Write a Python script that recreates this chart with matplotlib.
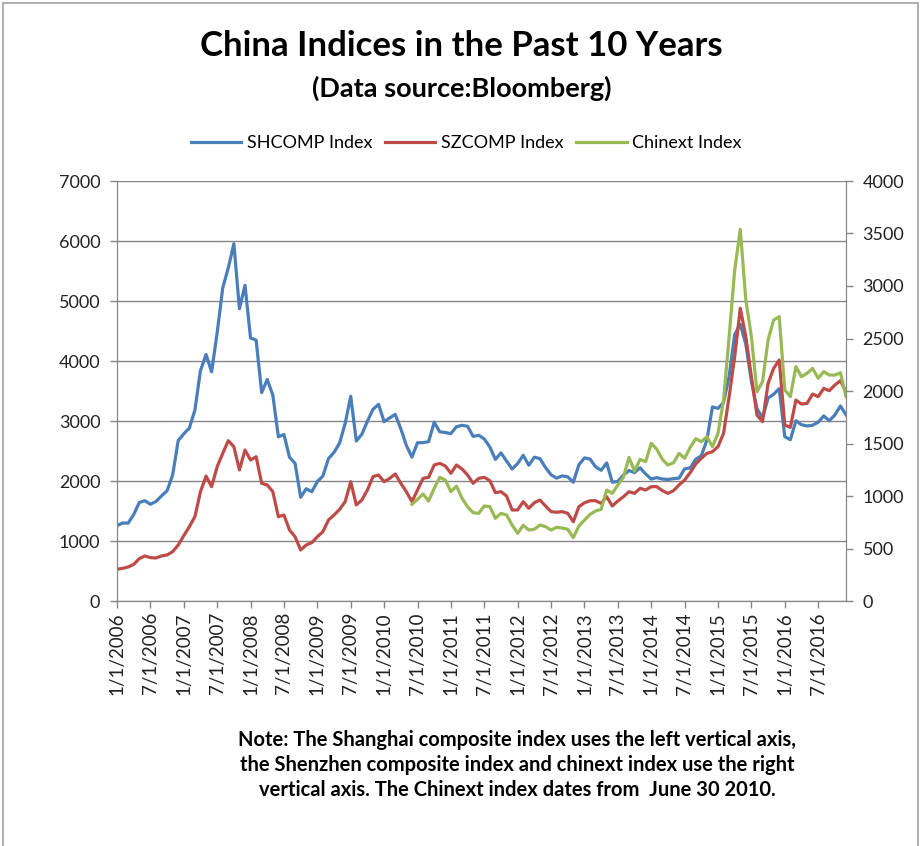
import numpy as np
import matplotlib
matplotlib.use('Agg')
import matplotlib.pyplot as plt
from matplotlib.patches import Rectangle

plt.rcParams['font.family'] = ['Lato', 'DejaVu Sans']

# monthly closes, Jan 2006 .. Dec 2016
shcomp = [1258, 1299, 1298, 1440, 1641, 1672, 1612, 1658, 1752, 1837, 2099, 2675,
          2786, 2881, 3183, 3841, 4109, 3820, 4471, 5218, 5552, 5954, 4871, 5262,
          4383, 4348, 3473, 3693, 3433, 2736, 2775, 2397, 2293, 1729, 1871, 1821,
          1991, 2082, 2373, 2477, 2633, 2959, 3412, 2667, 2779, 2996, 3195, 3277,
          2989, 3051, 3110, 2870, 2592, 2398, 2638, 2639, 2656, 2979, 2820, 2808,
          2790, 2905, 2928, 2912, 2743, 2762, 2701, 2567, 2360, 2469, 2333, 2199,
          2292, 2428, 2263, 2397, 2373, 2225, 2103, 2047, 2086, 2069, 1980, 2269,
          2385, 2366, 2237, 2178, 2301, 1979, 1994, 2098, 2175, 2141, 2220, 2116,
          2033, 2056, 2033, 2026, 2039, 2048, 2202, 2217, 2364, 2420, 2683, 3235,
          3210, 3310, 3748, 4442, 4612, 4277, 3664, 3206, 3053, 3383, 3446, 3539,
          2738, 2688, 3004, 2938, 2917, 2930, 2979, 3085, 3005, 3100, 3250, 3104]

szcomp = [302, 311, 324, 349, 403, 429, 413, 410, 429, 438, 470, 533,
          622, 708, 803, 1041, 1190, 1089, 1279, 1406, 1527, 1470, 1248, 1438,
          1343, 1374, 1121, 1105, 1041, 803, 819, 676, 612, 486, 533, 556,
          612, 660, 771, 819, 873, 946, 1136, 915, 962, 1057, 1184, 1200,
          1136, 1168, 1210, 1121, 1041, 946, 1057, 1168, 1178, 1295, 1311, 1286,
          1216, 1295, 1257, 1200, 1121, 1168, 1178, 1146, 1032, 1041, 1000, 867,
          867, 946, 883, 936, 962, 905, 851, 845, 851, 835, 755, 898,
          935, 955, 955, 930, 993, 905, 952, 993, 1041, 1025, 1073, 1057,
          1089, 1089, 1051, 1025, 1051, 1105, 1152, 1222, 1305, 1359, 1406, 1422,
          1470, 1597, 1946, 2327, 2788, 2517, 2136, 1771, 1708, 2073, 2216, 2295,
          1676, 1654, 1914, 1876, 1882, 1971, 1946, 2025, 2003, 2057, 2098, 1993]

# Chinext starts June 2010 (month index 53)
chinext_start = 53
chinext = [921, 968, 1019, 952, 1073, 1178, 1152,
           1041, 1095, 978, 898, 841, 835, 905, 898, 787, 835, 819, 724,
           645, 721, 676, 683, 724, 708, 676, 702, 695, 683, 603, 714,
           770, 825, 857, 873, 1057, 1025, 1105, 1178, 1368, 1238, 1349, 1327,
           1502, 1445, 1349, 1295, 1317, 1406, 1359, 1463, 1546, 1517, 1565, 1470,
           1597, 1914, 2517, 3152, 3540, 2867, 2517, 1993, 2089, 2486, 2676, 2708,
           2010, 1946, 2232, 2136, 2168, 2216, 2121, 2184, 2152, 2152, 2174, 1946]

tick_labels = []
for yr in range(2006, 2017):
    tick_labels += ['1/1/%d' % yr, '7/1/%d' % yr]

blue = '#4A7EBB'
red = '#BE4B48'
green = '#98B954'
axcol = '#868686'

fig = plt.figure(figsize=(9.23, 8.46), dpi=100)
fig.patches.append(Rectangle((0.003, -0.01), 0.992, 1.007, transform=fig.transFigure,
                             fill=False, edgecolor='#A0A0A0', linewidth=1.2))

ax = fig.add_axes([117 / 923, 1 - 601 / 846, (846 - 117) / 923, (601 - 181) / 846])
ax2 = ax.twinx()

x = np.arange(len(shcomp))
xc = np.arange(chinext_start, chinext_start + len(chinext))

l1, = ax.plot(x, shcomp, color=blue, lw=2.3, label='SHCOMP Index')
l2, = ax2.plot(x, szcomp, color=red, lw=2.3, label='SZCOMP Index')
l3, = ax2.plot(xc, chinext, color=green, lw=2.3, label='Chinext Index')

ax.set_xlim(0, len(shcomp) - 1)
ax.set_ylim(0, 7000)
ax2.set_ylim(0, 4000)
ax.set_yticks(range(0, 7001, 1000))
ax2.set_yticks(range(0, 4001, 500))
ax.set_xticks(range(0, 127, 6))
ax.set_xticklabels(tick_labels, rotation=90)

ax.grid(axis='y', color=axcol, lw=1)
ax.set_axisbelow(True)
for a in (ax, ax2):
    a.spines['top'].set_visible(False)
    for s in ('left', 'right', 'bottom'):
        a.spines[s].set_color(axcol)
    a.tick_params(colors=axcol, labelcolor='#222222', labelsize=13, length=5, width=1)
ax.tick_params(axis='x', labelsize=13.5, pad=3)
ax.tick_params(axis='y', pad=7)
ax2.tick_params(axis='y', pad=7)

fig.text(0.5, 1 - 46 / 846, 'China Indices in the Past 10 Years', ha='center', va='center',
         fontsize=25, fontweight='bold')
fig.text(0.5, 1 - 88 / 846, '(Data source:Bloomberg)', ha='center', va='center',
         fontsize=19.5, fontweight='bold')

fig.legend(handles=[l1, l2, l3], loc='center', bbox_to_anchor=(0.505, 1 - 143 / 846),
           ncol=3, frameon=False, fontsize=13, handlelength=2.8, handletextpad=0.3,
           columnspacing=0.7)

note = ('Note: The Shanghai composite index uses the left vertical axis,\n'
        'the Shenzhen composite index and chinext index use the right\n'
        'vertical axis. The Chinext index dates from  June 30 2010.')
fig.text(517 / 923, 1 - 765 / 846, note, ha='center', va='center', fontsize=14.5,
         fontweight='bold', linespacing=1.3)

fig.savefig('out.png', dpi=100)
